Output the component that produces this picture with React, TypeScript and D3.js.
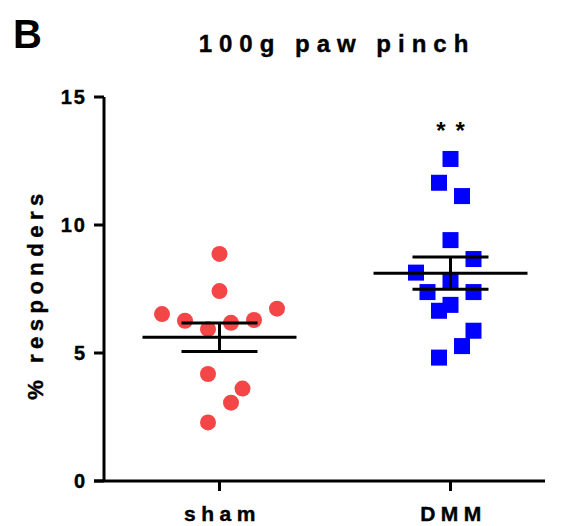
import React from 'react';
import * as d3 from 'd3';

// values
const categories = ['sham', 'DMM'];
const shamValues = [8.87, 7.42, 6.52, 6.26, 5.93, 6.18, 6.29, 6.73, 4.18, 3.61, 2.29, 3.06];
const dmmValues = [12.58, 11.65, 11.13, 9.41, 8.14, 7.82, 8.67, 7.38, 6.88, 7.38, 6.65, 5.87, 4.82, 5.27];
const yTicks = [0, 5, 10, 15];

const W = 568;
const H = 526;
const font = '"Liberation Sans", Arial, sans-serif';

const margin = {top: 97, left: 104, bottom: 45, right: 2};

const y = d3.scaleLinear().domain([0, 15]).range([H - margin.bottom, margin.top]);
const x = d3.scaleBand().domain(categories).range([margin.left, W - margin.right]).padding(0);

// GraphPad-like scatter: bin points into rows, spread rows, push overlapping columns outward
function swarm(values: number[], step = 23, collide = 21): number[] {
  const idx = values.map((_, i) => i).sort((a, b) => values[a] - values[b]);
  const rows: number[][] = [];
  let cur: number[] = [];
  let start = 0;
  for (const i of idx) {
    const py = y(values[i]);
    if (cur.length && Math.abs(start - py) >= step) {
      rows.push(cur);
      cur = [];
    }
    if (!cur.length) start = py;
    cur.push(i);
  }
  if (cur.length) rows.push(cur);

  const dx = new Array(values.length).fill(0);
  const placed: number[] = [];
  rows.forEach(row => {
    const ordered = [...row].sort((a, b) => a - b);
    ordered.forEach((i, k) => {
      let off = (k - (ordered.length - 1) / 2) * step;
      const dir = off < 0 ? -1 : 1;
      const hit = (o: number) =>
        placed.some(
          j => Math.abs(dx[j] - o) < step / 4 && Math.abs(y(values[j]) - y(values[i])) < collide
        );
      while (hit(off)) off += (dir * step) / 2;
      dx[i] = off;
      placed.push(i);
    });
  });
  return dx;
}

const stats = (v: number[]) => {
  const m = d3.mean(v) as number;
  const sem = (d3.deviation(v) as number) / Math.sqrt(v.length);
  return {m, sem};
};

const ErrorBar = ({cx, values}: {cx: number; values: number[]}) => {
  const {m, sem} = stats(values);
  return (
    <g stroke="#000" strokeWidth={3}>
      <line x1={cx - 77} x2={cx + 77} y1={y(m)} y2={y(m)} />
      <line x1={cx - 38} x2={cx + 38} y1={y(m + sem)} y2={y(m + sem)} />
      <line x1={cx - 38} x2={cx + 38} y1={y(m - sem)} y2={y(m - sem)} />
      <line x1={cx} x2={cx} y1={y(m + sem)} y2={y(m - sem)} />
    </g>
  );
};

// heavier bold text, like the exported figure
const textStyle = {stroke: '#000', strokeWidth: 0.4};

export default function App() {
  const cx = (c: string) => (x(c) as number) + x.bandwidth() / 2;
  const shamX = cx('sham');
  const dmmX = cx('DMM');
  const shamDx = swarm(shamValues);
  const dmmDx = swarm(dmmValues);
  const y0 = y(0);
  const xEnd = 545;

  return (
    <svg width={W} height={H} style={{position: 'absolute', left: 0, top: 0}} fontFamily={font}>
      <rect width={W} height={H} fill="#fff" />
      <text x={13} y={48} fontSize={40} fontWeight="bold">B</text>
      <text x={337} y={52} fontSize={24} fontWeight="bold" letterSpacing={7} textAnchor="middle" style={textStyle}>
        100g paw pinch
      </text>

      {/* y axis */}
      <line x1={margin.left} x2={margin.left} y1={y(15)} y2={y0} stroke="#000" strokeWidth={3} />
      {yTicks.map(t => (
        <g key={t}>
          <line x1={margin.left - 10} x2={margin.left} y1={y(t)} y2={y(t)} stroke="#000" strokeWidth={3} />
          <text
            x={margin.left - 17}
            y={y(t) + 7}
            fontSize={20}
            fontWeight="bold"
            letterSpacing={2}
            textAnchor="end"
            style={textStyle}
          >
            {t}
          </text>
        </g>
      ))}
      <text
        transform={`translate(43,${(y(0) + y(15)) / 2 + 5}) rotate(-90)`}
        fontSize={22}
        fontWeight="bold"
        letterSpacing={5.5}
        textAnchor="middle"
        style={textStyle}
      >
        % responders
      </text>

      {/* x axis */}
      <line x1={margin.left - 10} x2={xEnd} y1={y0} y2={y0} stroke="#000" strokeWidth={3} />
      {categories.map(c => (
        <g key={c}>
          <line x1={cx(c)} x2={cx(c)} y1={y0} y2={y0 + 10} stroke="#000" strokeWidth={3} />
          <text
            x={cx(c) + 3}
            y={521}
            fontSize={21}
            fontWeight="bold"
            letterSpacing={5.5}
            textAnchor="middle"
            style={textStyle}
          >
            {c}
          </text>
        </g>
      ))}

      {/* points */}
      {shamValues.map((v, i) => (
        <circle key={i} cx={shamX + shamDx[i]} cy={y(v)} r={8} fill="#f44646" />
      ))}
      {dmmValues.map((v, i) => (
        <rect key={i} x={dmmX + dmmDx[i] - 8} y={y(v) - 8} width={16} height={16} fill="#0000ff" />
      ))}

      <ErrorBar cx={shamX} values={shamValues} />
      <ErrorBar cx={dmmX} values={dmmValues} />

      <text x={dmmX + 5} y={139} fontSize={24} fontWeight="bold" letterSpacing={10} textAnchor="middle">
        **
      </text>
    </svg>
  );
}
